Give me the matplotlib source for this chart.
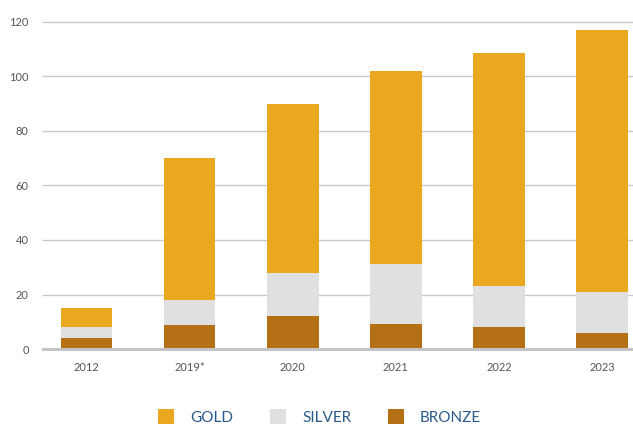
import matplotlib
matplotlib.use("Agg")
import matplotlib.pyplot as plt
import numpy as np

years = ["2012", "2019*", "2020", "2021", "2022", "2023"]
bronze = [4, 9, 12, 9.3, 8, 6]
silver = [4, 9, 16, 22, 15.3, 15]
gold = [7, 52, 61.8, 70.5, 85, 96]

c_gold = "#e9a81f"
c_silver = "#dfe0df"
c_bronze = "#b56f14"

plt.rcParams["font.family"] = ["Lato", "DejaVu Sans"]

fig = plt.figure(figsize=(6.33, 4.3), dpi=100)
ax = fig.add_axes([0.0675, 0.188, 0.9325, 0.762])

x = np.arange(len(years))
w = 0.5
bronze = np.array(bronze)
silver = np.array(silver)
gold = np.array(gold)

ax.bar(x, bronze, w, color=c_bronze, label="BRONZE", zorder=3)
ax.bar(x, silver, w, bottom=bronze, color=c_silver, label="SILVER", zorder=3)
ax.bar(x, gold, w, bottom=bronze + silver, color=c_gold, label="GOLD", zorder=3)

ax.set_ylim(0, 120)
ax.set_xlim(-0.425, 5.3)
ax.set_yticks(range(0, 121, 20))
ax.set_xticks(x)
ax.set_xticklabels(years)
# gridlines, baseline a bit heavier
for yv in range(20, 121, 20):
    ax.axhline(yv, color="#c8c8c8", lw=1, zorder=1, clip_on=False)
ax.axhline(0, color="#c4c4c4", lw=2.2, zorder=4, clip_on=False)

for s in ax.spines.values():
    s.set_visible(False)
ax.tick_params(axis="both", length=0, labelsize=8, labelcolor="#555555")
ax.tick_params(axis="y", pad=10)
ax.tick_params(axis="x", pad=9)

h, l = ax.get_legend_handles_labels()
fig.legend(h[::-1], l[::-1], loc="center", bbox_to_anchor=(0.505, 0.03), ncol=3,
           frameon=False, fontsize=11, labelcolor="#2b5a8a",
           handlelength=1.05, handleheight=1.05, handletextpad=1.05, columnspacing=2.4)

fig.savefig("out.png", dpi=100)
